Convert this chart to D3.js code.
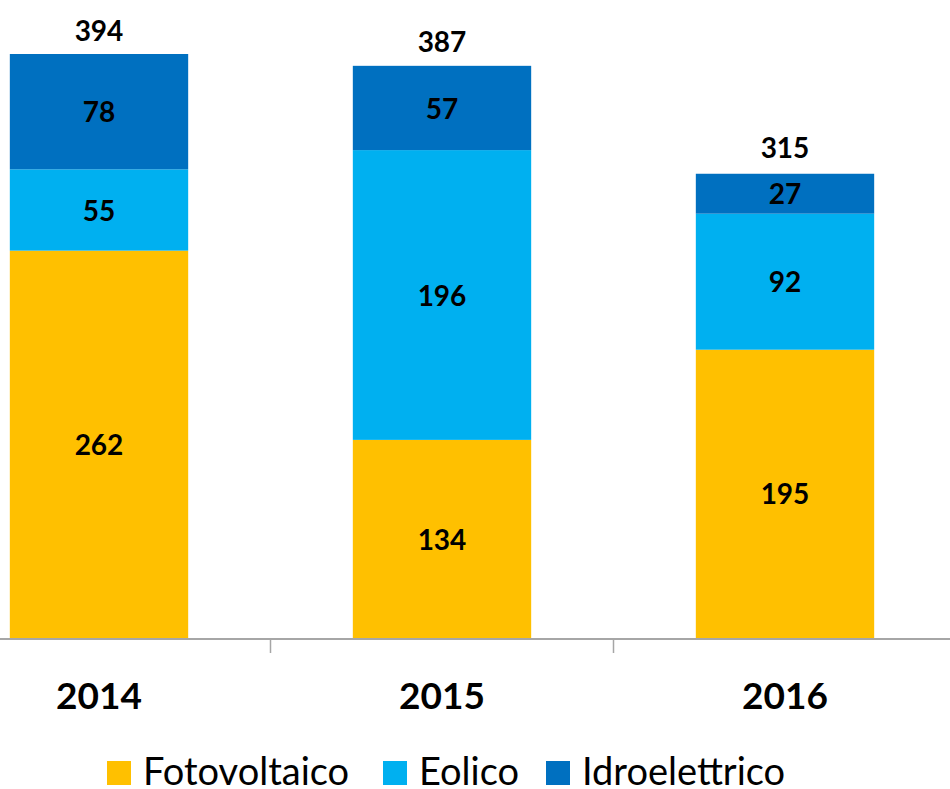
<!DOCTYPE html>
<html>
<head>
<meta charset="utf-8">
<script src="https://cdn.jsdelivr.net/npm/d3@7"></script>
<style>
  html, body { margin: 0; padding: 0; background: #ffffff; }
  svg { display: block; font-family: Lato, "Open Sans", sans-serif; }
</style>
</head>
<body>
<svg id="chart" width="950" height="789"></svg>
<script>
// data
const years = ["2014", "2015", "2016"];
const fotovoltaico = [262, 134, 195];
const eolico = [55, 196, 92];
const idroelettrico = [78, 57, 27];
const totals = [394, 387, 315];

const seriesNames = ["Fotovoltaico", "Eolico", "Idroelettrico"];
const seriesColors = ["#FFC000", "#00B0F0", "#0070C0"];

const svg = d3.select("#chart");

// rows for the stack
const rows = years.map((y, i) => ({
    year: y,
    Fotovoltaico: fotovoltaico[i],
    Eolico: eolico[i],
    Idroelettrico: idroelettrico[i],
    total: totals[i]
}));

const stack = d3.stack().keys(seriesNames);
const stacked = stack(rows);

const x = d3.scaleBand()
    .domain(years)
    .range([-72.5, 956.5])
    .padding(0);
const barW = x.bandwidth() * 0.52;

const y = d3.scaleLinear()
    .domain([0, 395])
    .range([638, 54]);

const color = d3.scaleOrdinal().domain(seriesNames).range(seriesColors);

// bars
const layers = svg.append("g").selectAll("g")
    .data(stacked)
    .enter()
    .append("g")
    .attr("fill", d => color(d.key));

layers.selectAll("rect")
    .data(d => d)
    .enter()
    .append("rect")
    .attr("x", d => x(d.data.year) + (x.bandwidth() - barW) / 2)
    .attr("y", d => y(d[1]))
    .attr("width", barW)
    .attr("height", d => y(d[0]) - y(d[1]));

// segment value labels
layers.selectAll("text")
    .data(d => d)
    .enter()
    .append("text")
    .attr("x", d => x(d.data.year) + x.bandwidth() / 2)
    .attr("y", d => (y(d[0]) + y(d[1])) / 2)
    .attr("dy", "0.38em")
    .attr("text-anchor", "middle")
    .attr("fill", "#000")
    .style("font-size", "28px")
    .style("font-weight", "bold")
    .text(d => d[1] - d[0]);

// totals above bars
svg.append("g").selectAll("text")
    .data(rows)
    .enter()
    .append("text")
    .attr("x", d => x(d.year) + x.bandwidth() / 2)
    .attr("y", d => y(d.total) - 14)
    .attr("text-anchor", "middle")
    .attr("fill", "#000")
    .style("font-size", "28px")
    .style("font-weight", "bold")
    .text(d => d.total);

// category axis
const axis = svg.append("g");
axis.append("line")
    .attr("x1", 0).attr("x2", 950)
    .attr("y1", 639).attr("y2", 639)
    .attr("stroke", "#A6A6A6")
    .attr("stroke-width", 2);

axis.selectAll(".tick")
    .data(years.slice(1))
    .enter()
    .append("line")
    .attr("class", "tick")
    .attr("x1", d => x(d)).attr("x2", d => x(d))
    .attr("y1", 639).attr("y2", 653)
    .attr("stroke", "#A6A6A6")
    .attr("stroke-width", 1.5);

axis.selectAll(".label")
    .data(years)
    .enter()
    .append("text")
    .attr("class", "label")
    .attr("x", d => x(d) + x.bandwidth() / 2)
    .attr("y", 709)
    .attr("text-anchor", "middle")
    .attr("fill", "#000")
    .style("font-size", "37px")
    .style("font-weight", "bold")
    .text(d => d);

// legend
const legendX = [107, 383, 546];
const legend = svg.append("g");
seriesNames.forEach((name, i) => {
    const item = legend.append("g")
        .attr("transform", `translate(${legendX[i]}, 761)`);
    item.append("rect")
        .attr("width", 24)
        .attr("height", 24)
        .attr("fill", color(name));
    item.append("text")
        .attr("x", 36)
        .attr("y", 24)
        .attr("fill", "#000")
        .style("font-size", "38px")
        .text(name);
});
</script>
</body>
</html>
